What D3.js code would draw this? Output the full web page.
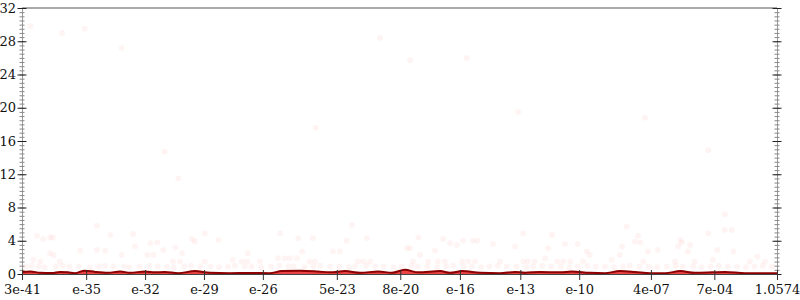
<!DOCTYPE html>
<html>
<head>
<meta charset="utf-8">
<script src="https://cdn.jsdelivr.net/npm/d3@7"></script>
<style>
  body { margin: 0; background: #fff; }
  text { font-family: "DejaVu Serif", serif; font-size: 13px; fill: #111; }
</style>
</head>
<body>
<svg width="800" height="300"></svg>
<script>
// x is the rank of a sample (0..100), labelled with the value found at that rank
var xTickRanks = [0, 8.5, 16.3, 24.1, 31.9, 41.7, 50.1, 58.0, 66.0, 73.8, 83.3, 91.7, 100];
var xTickLabels = ["3e-41", "e-35", "e-32", "e-29", "e-26", "5e-23", "8e-20", "e-16", "e-13", "e-10", "4e-07", "7e-04", "1.0574"];
var yTicks = [0, 4, 8, 12, 16, 20, 24, 28, 32];

// smoothed line: [rank, value]
var lineData = [
  [0, 0.25], [1.1, 0.3], [2.4, 0.15], [4.0, 0.12], [5.0, 0.25], [6.1, 0.2], [7.0, 0.1],
  [8.3, 0.4], [9.7, 0.25], [11.4, 0.15], [13.0, 0.3], [14.3, 0.15], [16.3, 0.3], [17.6, 0.2],
  [18.9, 0.25], [20.7, 0.1], [22.9, 0.35], [24.9, 0.15], [27.5, 0.1], [30.2, 0.12], [32.8, 0.1],
  [34.4, 0.35], [36.8, 0.4], [39.2, 0.3], [40.8, 0.2], [42.8, 0.35], [44.8, 0.15], [47.2, 0.3],
  [49.0, 0.15], [50.7, 0.5], [52.5, 0.2], [55.4, 0.35], [56.7, 0.15], [58.3, 0.35], [60.7, 0.15],
  [63.3, 0.1], [65.3, 0.25], [66.6, 0.15], [68.6, 0.25], [71.3, 0.2], [72.8, 0.3], [75.2, 0.15],
  [77.2, 0.1], [79.2, 0.35], [81.2, 0.25], [83.2, 0.1], [85.2, 0.1], [87.2, 0.35], [89.1, 0.15],
  [91.4, 0.2], [93.1, 0.25], [95.8, 0.1], [100, 0.1]
];

// individual samples: [rank, value]
var points = [
  [1.1, 29.8], [5.3, 29.0], [8.3, 29.5], [13.2, 27.2], [18.9, 14.7], [20.7, 11.5], [38.9, 17.6],
  [47.4, 28.4], [51.4, 25.7], [58.9, 26.0], [65.7, 19.5], [82.5, 18.8], [90.9, 14.9],
  [2.0, 4.6], [2.8, 4.2], [3.7, 4.4], [4.1, 4.4], [7.7, 2.8], [9.9, 5.8], [11.7, 4.7], [9.9, 2.9],
  [11.0, 2.8], [14.7, 4.8], [15.0, 3.3], [17.0, 3.7], [17.9, 3.8], [18.7, 2.9], [20.3, 3.2],
  [21.2, 2.5], [22.5, 4.2], [22.9, 3.9], [3.7, 2.5], [4.2, 2.3], [5.0, 1.5], [1.5, 1.7], [2.4, 1.5],
  [13.2, 2.3], [16.6, 2.3], [17.4, 2.3], [20.0, 1.5], [20.9, 1.5], [24.2, 4.9], [26.0, 4.1],
  [34.2, 4.9], [36.6, 4.3], [38.5, 4.3], [43.7, 5.9], [43.0, 4.0], [45.7, 4.3], [29.9, 2.5],
  [37.1, 2.7], [41.2, 2.7], [42.1, 2.7], [27.9, 1.7], [33.9, 1.9], [34.8, 1.9], [35.5, 1.9],
  [36.4, 1.9], [38.1, 1.5], [38.8, 1.5], [44.5, 1.5], [45.2, 1.5], [46.1, 1.5], [31.5, 1.5],
  [29.8, 1.5], [24.2, 1.5], [29.1, 1.5], [52.5, 4.4], [55.8, 4.2], [56.7, 3.7], [58.4, 4.0],
  [59.7, 4.0], [60.3, 4.0], [62.4, 3.6], [66.4, 4.9], [70.2, 4.7], [71.9, 3.6], [73.6, 3.6],
  [51.0, 3.1], [51.4, 3.1], [54.7, 2.8], [57.6, 3.5], [65.3, 3.3], [69.7, 3.1], [52.7, 2.3],
  [69.3, 1.9], [74.8, 2.7], [75.2, 2.3], [51.8, 1.5], [53.8, 1.5], [55.1, 1.5], [56.0, 1.5],
  [58.3, 1.5], [59.1, 1.5], [60.0, 1.5], [63.3, 1.5], [66.4, 1.5], [67.0, 1.5], [67.9, 1.5],
  [70.9, 1.5], [71.7, 1.5], [72.6, 1.5], [74.3, 1.5], [93.1, 7.2], [80.1, 5.7], [81.6, 4.6],
  [81.2, 3.9], [81.9, 3.8], [79.5, 3.3], [82.9, 2.7], [84.2, 2.9], [87.2, 4.1], [87.4, 3.8],
  [86.9, 3.3], [88.5, 3.5], [90.9, 4.9], [93.1, 5.3], [94.0, 5.3], [88.2, 2.7], [92.1, 2.9],
  [94.2, 2.7], [78.1, 1.7], [79.2, 2.3], [82.3, 1.5], [86.5, 1.5], [89.1, 1.5], [91.5, 1.7],
  [96.4, 1.5], [97.4, 2.1], [98.4, 1.5],
  [0.5, 0.9], [1.3, 1.0], [2.2, 0.9], [3.0, 0.8], [4.5, 0.9], [5.4, 1.0], [6.3, 0.9], [7.5, 0.9],
  [9.0, 0.8], [10.2, 0.9], [11.0, 1.0], [12.1, 0.9], [13.5, 0.9], [14.2, 0.8], [15.6, 0.9],
  [16.9, 1.0], [18.0, 0.9], [19.2, 0.9], [20.1, 0.8], [21.5, 0.9], [22.4, 1.0], [23.6, 0.9],
  [25.0, 0.9], [26.1, 0.8], [27.3, 0.9], [28.2, 1.0], [29.5, 0.9], [30.4, 0.9], [31.7, 0.8],
  [33.0, 0.9], [34.1, 1.0], [35.3, 0.9], [36.0, 0.9], [37.4, 0.8], [38.6, 0.9], [39.5, 1.0],
  [40.8, 0.9], [42.0, 0.9], [43.3, 0.8], [44.1, 0.9], [45.6, 1.0], [46.8, 0.9], [47.9, 0.9],
  [49.2, 0.8], [50.3, 0.9], [51.6, 1.0], [52.4, 0.9], [53.7, 0.9], [55.0, 0.8], [56.2, 0.9],
  [57.1, 1.0], [58.5, 0.9], [59.6, 0.9], [60.8, 0.8], [61.9, 0.9], [63.0, 1.0], [64.2, 0.9],
  [65.5, 0.9], [66.8, 0.8], [67.7, 0.9], [68.9, 1.0], [70.1, 0.9], [71.4, 0.9], [72.5, 0.8],
  [73.6, 0.9], [74.9, 1.0], [76.0, 0.9], [77.2, 0.9], [78.4, 0.8], [79.6, 0.9], [80.5, 1.0],
  [81.8, 0.9], [83.0, 0.9], [84.1, 0.8], [85.4, 0.9], [86.6, 1.0], [87.5, 0.9], [88.9, 0.9],
  [90.0, 0.8], [91.2, 0.9], [92.3, 1.0], [93.5, 0.9], [94.7, 0.9], [95.9, 0.8], [97.0, 0.9],
  [98.1, 1.0], [99.3, 0.9]
];

var svg = d3.select("svg"),
    plotLeft = 22, plotRight = 777, plotTop = 8, plotBottom = 274;

var x = d3.scaleLinear().domain([0, 100]).range([plotLeft, plotRight]);
var y = d3.scaleLinear().domain([0, 32]).range([plotBottom, plotTop]);

// samples, very faint
svg.append("g").selectAll("circle")
    .data(points)
  .enter().append("circle")
    .attr("cx", function(d) { return x(d[0]); })
    .attr("cy", function(d) { return y(d[1]); })
    .attr("r", 3)
    .attr("fill", "#ff0000")
    .attr("fill-opacity", 0.045);

// top border
svg.append("line")
    .attr("x1", plotLeft).attr("x2", plotRight)
    .attr("y1", plotTop).attr("y2", plotTop)
    .attr("stroke", "#aaa").attr("stroke-width", 2);

// y axes, ticks crossing the axis line
function yAxis(xpos, withLabels) {
  var minor = svg.append("g").attr("transform", "translate(" + xpos + ",0)")
      .call(d3.axisLeft(y).tickValues(d3.range(0, 32.01, 0.5)).tickFormat("").tickSize(0));
  minor.select(".domain").attr("stroke", "#999");
  minor.selectAll(".tick line").attr("x1", -2.5).attr("x2", 2.5).attr("stroke", "#888");

  var major = svg.append("g").attr("transform", "translate(" + xpos + ",0)")
      .call(d3.axisLeft(y).tickValues(yTicks).tickSize(0).tickPadding(6)
        .tickFormat(withLabels ? d3.format("d") : ""));
  major.select(".domain").remove();
  major.selectAll(".tick line").attr("x1", -4.5).attr("x2", 4.5).attr("stroke", "#222");
  major.selectAll("text").attr("font-family", "DejaVu Serif").attr("font-size", 13).attr("fill", "#111");
}
yAxis(plotLeft, true);
yAxis(plotRight, false);

// area + line
var area = d3.area()
    .x(function(d) { return x(d[0]); })
    .y0(y(0))
    .y1(function(d) { return y(d[1]); })
    .curve(d3.curveMonotoneX);
var line = d3.line()
    .x(function(d) { return x(d[0]); })
    .y(function(d) { return y(d[1]); })
    .curve(d3.curveMonotoneX);

svg.append("path").attr("d", area(lineData))
    .attr("fill", "#e83030").attr("fill-opacity", 0.9);
svg.append("path").attr("d", line(lineData))
    .attr("fill", "none").attr("stroke", "#8b0000").attr("stroke-width", 2);

// x axis
var xg = svg.append("g").attr("transform", "translate(0," + plotBottom + ")")
    .call(d3.axisBottom(x).tickValues(xTickRanks).tickSize(0).tickPadding(11)
      .tickFormat(function(d, i) { return xTickLabels[i]; }));
xg.select(".domain").attr("stroke", "#444");
xg.selectAll(".tick line").attr("y1", -4).attr("y2", 6).attr("stroke", "#333");
xg.selectAll("text").attr("font-family", "DejaVu Serif").attr("font-size", 13).attr("fill", "#111");
</script>
</body>
</html>
